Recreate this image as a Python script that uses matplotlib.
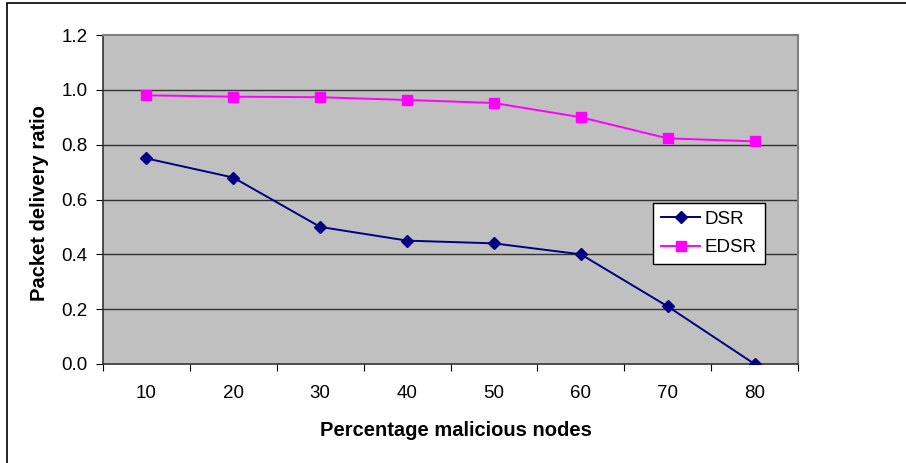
import matplotlib
matplotlib.use("Agg")
import matplotlib.pyplot as plt
from matplotlib.patches import Rectangle

categories = ["10", "20", "30", "40", "50", "60", "70", "80"]
dsr = [0.75, 0.68, 0.50, 0.45, 0.44, 0.40, 0.21, 0.0]
edsr = [0.98, 0.975, 0.973, 0.963, 0.952, 0.90, 0.823, 0.812]
yticks = [0.0, 0.2, 0.4, 0.6, 0.8, 1.0, 1.2]

plt.rcParams['font.family'] = ['Liberation Sans', 'DejaVu Sans']

W, H = 906, 463
fig = plt.figure(figsize=(W / 100, H / 100), dpi=100)
fig.patch.set_facecolor('white')

# outer chart border (top and left visible)
fig.patches.append(Rectangle((7 / W, -0.1), 1.2, 1 - 3 / H + 0.1, transform=fig.transFigure,
                             fill=False, edgecolor='black', linewidth=1.2))

ax = fig.add_axes([103 / W, 1 - 364 / H, (798 - 103) / W, (364 - 35) / H])
ax.set_facecolor('#C0C0C0')
x = list(range(len(categories)))

for y in yticks[1:-1]:
    ax.axhline(y, color='#333333', linewidth=1.0, zorder=1)

ax.plot(x, dsr, color='#000080', marker='D', markersize=6.5, linewidth=1.4, label='DSR', zorder=3)
ax.plot(x, edsr, color='#FF00FF', marker='s', markersize=6.5, linewidth=1.4, label='EDSR', zorder=3)

ax.set_xlim(-0.5, len(categories) - 0.5)
ax.set_ylim(0, 1.2)
ax.set_yticks(yticks)
ax.set_yticklabels([f"{v:.1f}" for v in yticks], fontsize=13.5)
ax.set_xticks([i - 0.5 for i in range(len(categories) + 1)])
ax.set_xticklabels([])
ax.set_xticks(x, minor=True)
ax.set_xticklabels(categories, minor=True, fontsize=13.5)
ax.tick_params(axis='x', which='major', length=5, direction='out', color='black')
ax.tick_params(axis='x', which='minor', length=0, pad=15)
ax.tick_params(axis='y', length=5, direction='out', color='black', pad=6)

for side in ['top', 'right']:
    ax.spines[side].set_color('#808080')
    ax.spines[side].set_linewidth(1.5)
ax.spines['left'].set_color('#333333')
ax.spines['bottom'].set_color('#333333')
ax.spines['left'].set_linewidth(1.2)
ax.spines['bottom'].set_linewidth(1.2)

fig.text(456 / W, 1 - 430 / H, 'Percentage malicious nodes', fontsize=14.5, fontweight='bold',
         ha='center', va='center')
fig.text(40 / W, 1 - 203 / H, 'Packet delivery ratio', fontsize=14.5, fontweight='bold',
         ha='center', va='center', rotation=90)

leg = ax.legend(loc='upper left', bbox_to_anchor=(653 / W, 1 - 203 / H), bbox_transform=fig.transFigure,
                fontsize=13.5, frameon=True, fancybox=False, framealpha=1, edgecolor='black',
                borderpad=0.42, handlelength=2.1, handletextpad=0.25, labelspacing=0.6, borderaxespad=0)
leg.get_frame().set_linewidth(1.0)

fig.savefig('out.png', dpi=100, facecolor='white')
